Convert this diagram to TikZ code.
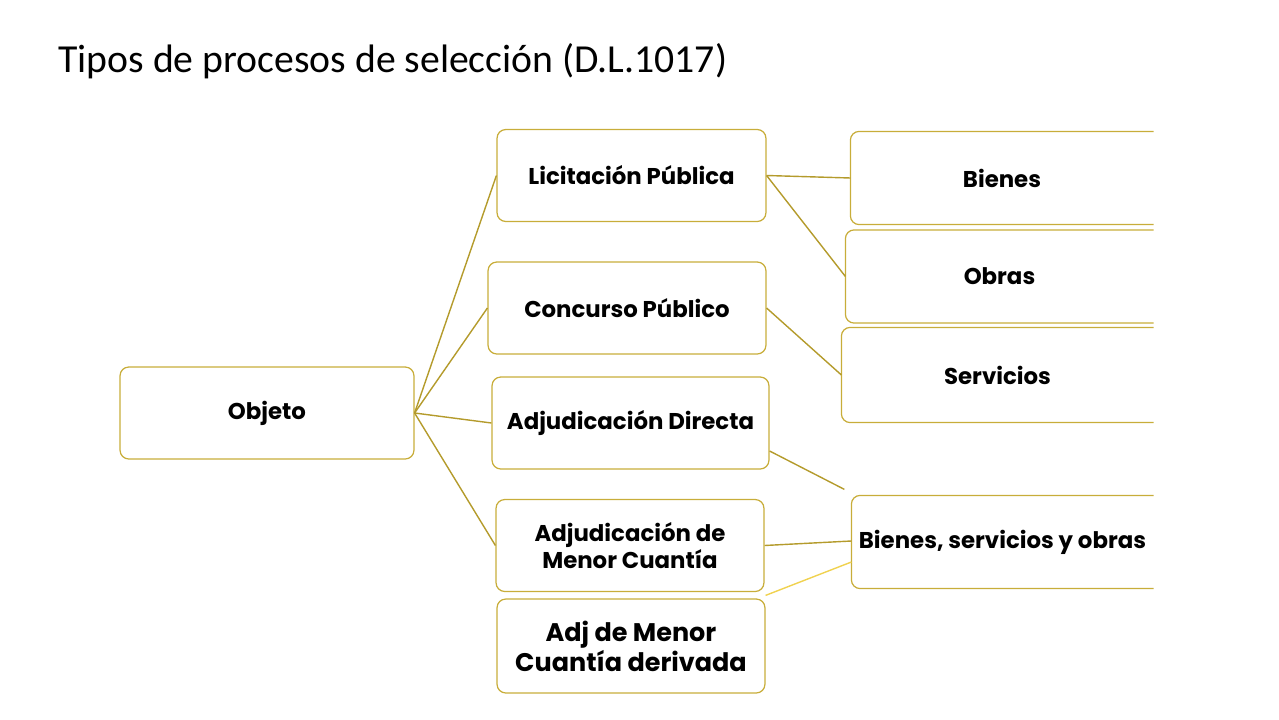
\documentclass[tikz,border=0pt]{standalone}
\usepackage{fontspec}
\setmainfont{Carlito}
\newfontfamily\boxfont{Poppins}
\usepackage{tikz}
\usetikzlibrary{calc}
\definecolor{goldline}{HTML}{B49B2C}
\definecolor{goldbox}{HTML}{C8AD3A}
\definecolor{lightgold}{HTML}{F0D250}
\tikzset{
	box/.style={draw=goldbox, line width=0.7pt, rounded corners=5pt, align=center, inner sep=2pt,
		font=\boxfont\bfseries\fontsize{13}{15}\selectfont, minimum height=1.84cm},
	openbox/.style={box, draw=none},
	link/.style={draw=goldline, line width=0.8pt}
}
\begin{document}
\begin{tikzpicture}[x=0.02cm, y=-0.02cm]
				\useasboundingbox (0,0) rectangle (1279,720);
				\node[anchor=base west, inner sep=0pt, font=\fontsize{22.6}{27}\selectfont] (title) at (58,72) {Tipos de procesos de selección (D.L.1017)};
				\node[box, minimum width=5.88cm] (obj) at (267,413) {Objeto};
				\node[box, minimum width=5.38cm] (lic) at (631.5,175.5) {Licitación Pública};
				\node[box, minimum width=5.56cm] (con) at (627,308) {Concurso Público};
				\node[box, minimum width=5.54cm] (adi) at (630.5,423) {Adjudicación Directa};
				\node[box, minimum width=5.36cm] (amc) at (630,545.5) {Adjudicación de\\Menor Cuantía};
				\node[box, minimum width=5.36cm, minimum height=1.88cm, font=\boxfont\bfseries\fontsize{14.5}{17}\selectfont] (der) at (631,646) {Adj de Menor\\Cuantía derivada};
				\node[openbox, minimum width=6.04cm] (bie) at (1002,178) {Bienes};
				\node[openbox, minimum width=6.14cm] (obr) at (999.5,276.5) {Obras};
				\node[openbox, minimum width=6.22cm, minimum height=1.88cm] (ser) at (997.5,375) {Servicios};
				\node[openbox, minimum width=6.02cm] (bso) at (1002.5,542) {Bienes, servicios y obras};
				\foreach \n in {bie,obr,ser,bso}
					\draw[draw=goldbox, line width=0.7pt, rounded corners=5pt] (\n.north east) -- (\n.north west) -- (\n.south west) -- (\n.south east);
				\draw[link] (obj.east) -- (lic.west);
				\draw[link] (obj.east) -- (con.west);
				\draw[link] (obj.east) -- (adi.west);
				\draw[link] (obj.east) -- (amc.west);
				\draw[link] (lic.east) -- (bie.west);
				\draw[link] (lic.east) -- (obr.west);
				\draw[link] (con.east) -- (ser.west);
				\draw[link] ($(adi.east)+(0,28)$) -- ($(bso.north west)+(-7,-6)$);
				\draw[link] (amc.east) -- ($(bso.west)+(0,-1)$);
				\draw[link, draw=lightgold] ($(der.north east)+(0,-3)$) -- ($(bso.west)+(0,20)$);
			\end{tikzpicture}
\end{document}
